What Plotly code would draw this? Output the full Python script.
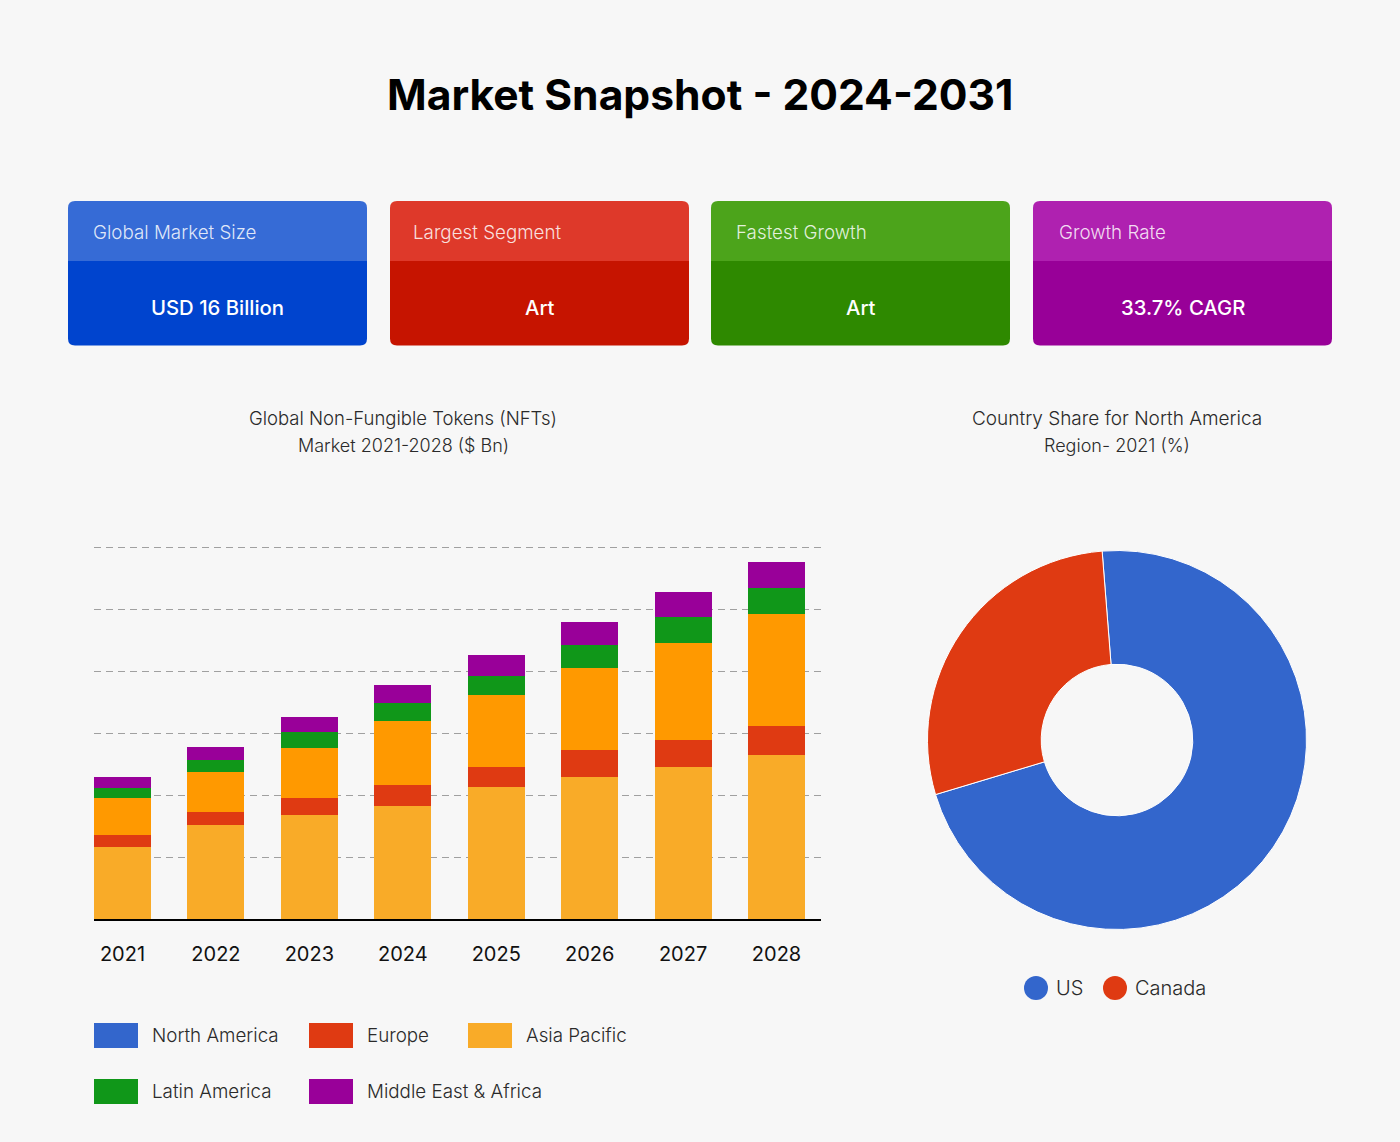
import plotly.graph_objects as go

W = 1400
H = 1142
FONT = "Inter"

# stacked bars, y axis has no labels in the source so units are gridline based (10 per gridline)
years = ["2021", "2022", "2023", "2024", "2025", "2026", "2027", "2028"]
north_america = [11.7, 15.2, 16.8, 18.3, 21.3, 23.0, 24.6, 26.5]
europe = [1.9, 2.1, 2.7, 3.4, 3.2, 4.3, 4.4, 4.7]
asia_pacific = [6.0, 6.5, 8.2, 10.3, 11.6, 13.2, 15.6, 18.1]
latin_america = [1.6, 1.9, 2.5, 2.9, 3.2, 3.7, 4.1, 4.2]
middle_east_africa = [1.8, 2.1, 2.4, 2.9, 3.3, 3.7, 4.1, 4.2]

countries = ["US", "Canada"]
country_share = [71.6, 28.4]

card_titles = ["Global Market Size", "Largest Segment", "Fastest Growth", "Growth Rate"]
card_values = ["USD 16 Billion", "Art", "Art", "33.7% CAGR"]


def px(x):
    return x / W


def py(y):
    return 1 - y / H


def round_top(x0, y0, x1, y1, r):
    return (
        f"M {px(x0)} {py(y1)} L {px(x0)} {py(y0 + r)} Q {px(x0)} {py(y0)} {px(x0 + r)} {py(y0)} "
        f"L {px(x1 - r)} {py(y0)} Q {px(x1)} {py(y0)} {px(x1)} {py(y0 + r)} L {px(x1)} {py(y1)} Z"
    )


def round_bottom(x0, y0, x1, y1, r):
    return (
        f"M {px(x0)} {py(y0)} L {px(x1)} {py(y0)} L {px(x1)} {py(y1 - r)} Q {px(x1)} {py(y1)} {px(x1 - r)} {py(y1)} "
        f"L {px(x0 + r)} {py(y1)} Q {px(x0)} {py(y1)} {px(x0)} {py(y1 - r)} Z"
    )


def text(x, y, s, size, color="#2a2a2a", anchor="center", weight=300):
    return dict(
        x=px(x), y=py(y), xref="paper", yref="paper", text=s, showarrow=False,
        xanchor=anchor, yanchor="middle", font=dict(family=FONT, size=size, color=color, weight=weight),
    )


fig = go.Figure()

bar_series = [
    ("North America", north_america, "#F9AB28"),
    ("Europe", europe, "#DF3A12"),
    ("Asia Pacific", asia_pacific, "#FF9900"),
    ("Latin America", latin_america, "#109719"),
    ("Middle East & Africa", middle_east_africa, "#990099"),
]
for name, values, color in bar_series:
    fig.add_trace(go.Bar(x=years, y=values, name=name, marker=dict(color=color, line=dict(width=0)), width=0.61))

fig.add_trace(go.Pie(
    labels=countries, values=country_share, hole=0.4, sort=False, direction="clockwise", rotation=-4.5,
    marker=dict(colors=["#3366CC", "#DF3A12"], line=dict(color="#ffffff", width=1)),
    textinfo="none", domain=dict(x=[px(927.5), px(1306.5)], y=[py(929.5), py(550.5)]), showlegend=False,
))

shapes = []
annotations = []

# top cards
card_x = [68, 390, 711, 1033]
card_light = ["#366BD6", "#DE392A", "#4CA41B", "#AF21B0"]
card_dark = ["#0044CE", "#C61400", "#2E8900", "#980098"]
title_x = [93, 413, 736, 1059]
for i in range(4):
    x0 = card_x[i]
    shapes.append(dict(type="path", path=round_top(x0, 201, x0 + 299, 261, 7), xref="paper", yref="paper",
                       fillcolor=card_light[i], line=dict(width=0), layer="below"))
    shapes.append(dict(type="path", path=round_bottom(x0, 261, x0 + 299, 345.5, 7), xref="paper", yref="paper",
                       fillcolor=card_dark[i], line=dict(width=0), layer="below"))
    annotations.append(text(title_x[i] - 2, 232, card_titles[i], 18.8, "rgba(255,255,255,0.85)", "left"))
    annotations.append(text(x0 + 149.5, 307.5, card_values[i], 20.3, "#ffffff", weight=500))

annotations.append(text(700, 95, "Market Snapshot - 2024-2031", 42.6, "#000000", weight=700))
annotations.append(text(403, 418, "Global Non-Fungible Tokens (NFTs)", 18.5))
annotations.append(text(403, 445, "Market 2021-2028 ($ Bn)", 18))
annotations.append(text(1117, 418, "Country Share for North America", 19))
annotations.append(text(1117, 445, "Region- 2021 (%)", 18))

# legend for the bars, the swatch colours differ from the bars in the source
legend_names = ["North America", "Europe", "Asia Pacific", "Latin America", "Middle East & Africa"]
legend_colors = ["#3366CC", "#DF3A12", "#F9AB28", "#109719", "#990099"]
legend_x = [94, 309, 468, 94, 309]
legend_y = [1023, 1023, 1023, 1079, 1079]
for name, color, x0, y0 in zip(legend_names, legend_colors, legend_x, legend_y):
    shapes.append(dict(type="rect", xref="paper", yref="paper", x0=px(x0), x1=px(x0 + 44),
                       y0=py(y0 + 25), y1=py(y0), fillcolor=color, line=dict(width=0)))
    annotations.append(text(x0 + 56, y0 + 12, name, 18.8, anchor="left"))

# legend for the donut
dot_x = [1036, 1115]
for name, color, cx in zip(countries, ["#3366CC", "#DF3A12"], dot_x):
    shapes.append(dict(type="circle", xref="paper", yref="paper", x0=px(cx - 12), x1=px(cx + 12),
                       y0=py(1000), y1=py(976), fillcolor=color, line=dict(width=0)))
    annotations.append(text(cx + 18, 987.5, name, 20, anchor="left"))

fig.update_layout(
    width=W,
    height=H,
    margin=dict(l=0, r=0, t=0, b=0),
    paper_bgcolor="#F7F7F7",
    plot_bgcolor="rgba(0,0,0,0)",
    barmode="stack",
    showlegend=False,
    shapes=shapes,
    annotations=annotations,
    font=dict(family=FONT, color="#2a2a2a"),
    xaxis=dict(
        domain=[px(94), px(821)], type="category", range=[-0.305, 7.476], showgrid=False,
        showline=True, linecolor="#000000", linewidth=1.5, ticks="", ticklabelstandoff=16,
        tickfont=dict(family=FONT, size=20, color="#111111", weight=400),
    ),
    yaxis=dict(
        domain=[py(919.3), py(546.06)], range=[0, 60.2], dtick=10, showticklabels=False,
        showgrid=True, gridcolor="#A0A0A0", gridwidth=1, griddash="7px,5px", zeroline=False,
    ),
)

fig.write_html(
    "out.html",
    config=dict(displayModeBar=False),
    post_script="document.body.style.margin='0';document.body.style.background='#F7F7F7';",
)
